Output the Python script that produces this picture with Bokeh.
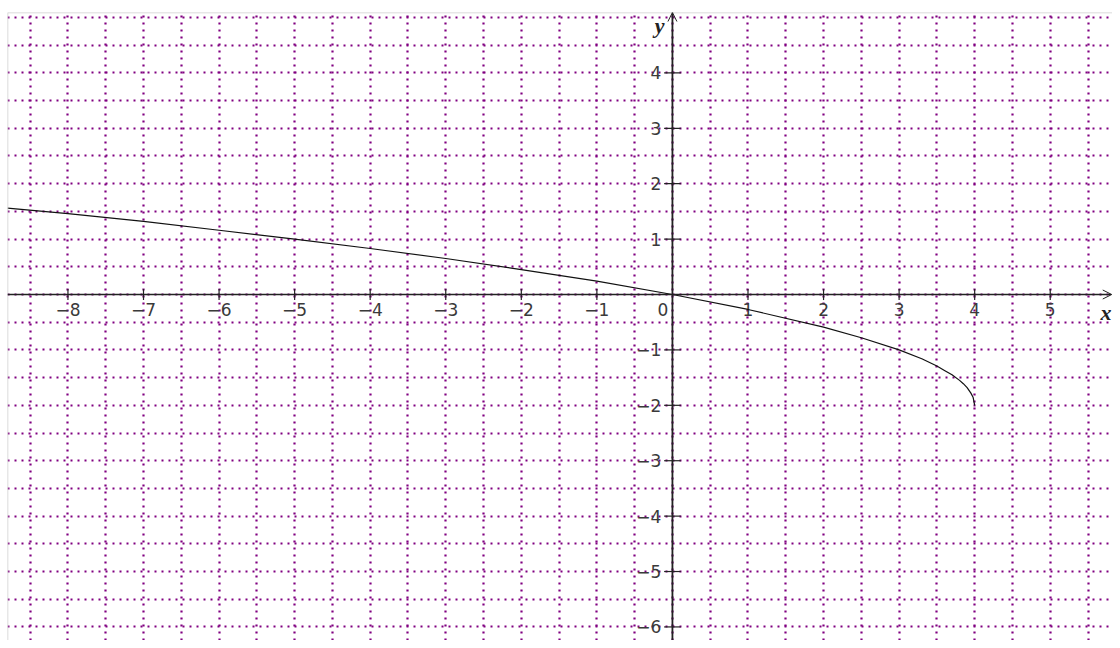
import numpy as np
from bokeh.plotting import figure
from bokeh.models import FixedTicker, Arrow, OpenHead, Span
from bokeh.core.properties import value
from bokeh.embed import file_html
from bokeh.resources import INLINE

# ---- data ----
x_min, x_max = -8.80, 5.824
y_min, y_max = -6.245, 5.09

curve_x = [-8.80, -8.0, -7.0, -6.0, -5.0, -4.0, -3.0, -2.0, -1.0, 0.0, 1.0, 2.0,
           2.5, 3.0, 3.3, 3.5, 3.6, 3.7, 3.8, 3.85, 3.9, 3.95, 3.98, 4.0]
curve_y = [1.56, 1.46, 1.32, 1.16, 1.0, 0.83, 0.65, 0.45, 0.24, 0.0, -0.27, -0.59,
           -0.78, -1.0, -1.16, -1.29, -1.37, -1.45, -1.55, -1.61, -1.68, -1.78, -1.86, -2.0]

x_tick_values = [-8, -7, -6, -5, -4, -3, -2, -1, 1, 2, 3, 4, 5]
x_tick_labels = ["−8", "−7", "−6", "−5", "−4", "−3", "−2", "−1", "1", "2", "3", "4", "5"]
y_tick_values = [-6, -5, -4, -3, -2, -1, 1, 2, 3, 4]
y_tick_labels = ["−6", "−5", "−4", "−3", "−2", "−1", "1", "2", "3", "4"]
grid_values = [v / 2 for v in range(-18, 13)]

# ---- figure ----
p = figure(width=1112, height=640, x_range=(x_min, x_max), y_range=(y_min, y_max),
           output_backend="svg", toolbar_location=None,
           min_border_left=7, min_border_right=0, min_border_top=12, min_border_bottom=0)
p.xaxis.visible = False
p.yaxis.visible = False
p.outline_line_color = None
p.background_fill_color = "white"
p.border_fill_color = "white"

for g, ticks in ((p.xgrid, grid_values), (p.ygrid, grid_values)):
    g.ticker = FixedTicker(ticks=ticks)
    g.grid_line_color = "#800080"
    g.grid_line_width = 2.2
    g.grid_line_dash = "2 5"
    g.grid_line_alpha = 1.0

# frame border (top / left)
p.add_layout(Span(location=y_max, dimension="width", line_color="#d0d0d0", line_width=1.5))
p.add_layout(Span(location=x_min, dimension="height", line_color="#d0d0d0", line_width=1.5))

# axes with arrows
p.add_layout(Arrow(end=OpenHead(size=9, line_color="#222222", line_width=1),
                   x_start=x_min, y_start=0, x_end=x_max - 0.01, y_end=0,
                   line_color="#222222", line_width=1.5))
p.add_layout(Arrow(end=OpenHead(size=9, line_color="#222222", line_width=1),
                   x_start=0, y_start=y_min, x_end=0, y_end=y_max,
                   line_color="#222222", line_width=1.8))

# tick marks
p.segment(x0=x_tick_values, y0=[-0.1] * len(x_tick_values),
          x1=x_tick_values, y1=[0.1] * len(x_tick_values),
          line_color="#222222", line_width=1.2)
p.segment(x0=[-0.11] * len(y_tick_values), y0=y_tick_values,
          x1=[0.11] * len(y_tick_values), y1=y_tick_values,
          line_color="#222222", line_width=1.2)

font = value("DejaVu Sans")
p.text(x=x_tick_values, y=[0] * len(x_tick_values), text=x_tick_labels,
       text_align="center", text_baseline="top", y_offset=8,
       text_font=font, text_font_size="17px", text_color="#3a3a3a")
p.text(x=[0] * len(y_tick_values), y=y_tick_values, text=y_tick_labels,
       text_align="right", text_baseline="middle", x_offset=-11,
       text_font=font, text_font_size="17px", text_color="#3a3a3a")
p.text(x=[0], y=[0], text=["0"], text_align="right", text_baseline="top",
       x_offset=-4, y_offset=8, text_font=font, text_font_size="17px", text_color="#3a3a3a")

# axis names
serif = value("Liberation Serif")
p.text(x=[0], y=[y_max], text=["y"], text_align="right", text_baseline="top",
       x_offset=-8, y_offset=0, text_font=serif, text_font_style="bold italic",
       text_font_size="22px", text_color="#222222")
p.text(x=[x_max], y=[0], text=["x"], text_align="left", text_baseline="top",
       x_offset=-12, y_offset=5, text_font=serif, text_font_style="bold italic",
       text_font_size="22px", text_color="#222222")

# curve
p.line(curve_x, curve_y, line_color="#111111", line_width=1.2)

open("out.html", "w").write(file_html(p, INLINE))
